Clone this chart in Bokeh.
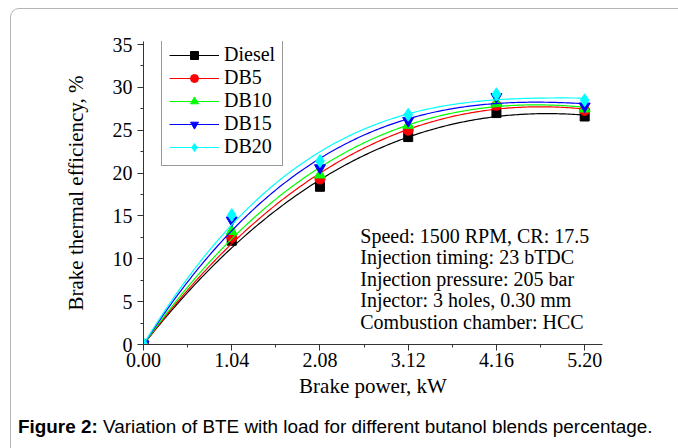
import numpy as np
from bokeh.plotting import figure
from bokeh.layouts import column
from bokeh.models import Range1d, FixedTicker, Legend, LegendItem, Label, Div
from bokeh.embed import file_html
from bokeh.resources import INLINE

# ---------------- data ----------------
load_kw = [0.00, 1.04, 2.08, 3.12, 4.16, 5.20]
x_tick_labels = ["0.00", "1.04", "2.08", "3.12", "4.16", "5.20"]
diesel = [0.0, 12.1, 18.4, 24.2, 27.0, 26.6]
db5 = [0.0, 12.5, 19.3, 25.0, 27.9, 27.3]
db10 = [0.0, 13.2, 19.8, 25.6, 28.2, 27.5]
db15 = [0.0, 14.5, 20.6, 26.1, 28.9, 27.8]
db20 = [0.0, 15.1, 21.4, 26.8, 29.2, 28.5]
series_names = ["Diesel", "DB5", "DB10", "DB15", "DB20"]
y_ticks = [0, 5, 10, 15, 20, 25, 30, 35]
annotation_lines = [
    "Speed: 1500 RPM, CR: 17.5",
    "Injection timing: 23 bTDC",
    "Injection pressure: 205 bar",
    "Injector: 3 holes, 0.30 mm",
    "Combustion chamber: HCC",
]
caption_bold = "Figure 2:"
caption_rest = "Variation of BTE with load for different butanol blends percentage."

series_values = [diesel, db5, db10, db15, db20]
colors = ["#000000", "#ff0000", "#00ff00", "#0000ff", "#00ffff"]
markers = ["square", "circle", "triangle", "inverted_triangle", "diamond"]
msizes = [9, 10, 11, 11, 13]

SERIF = "Liberation Serif"

p = figure(width=678, height=410, output_backend="svg", toolbar_location=None,
           x_range=Range1d(0, 5.41), y_range=Range1d(0, 35.35),
           min_border_left=143, min_border_right=76, min_border_top=41, min_border_bottom=66)
p.outline_line_color = None
p.xgrid.visible = False
p.ygrid.visible = False
p.background_fill_color = "white"
p.border_fill_color = None

# smooth polynomial trend (through the origin) fitted to each series, as in the original
x = np.array(load_kw)
xs = np.linspace(0, load_kw[-1], 200)
items = []
for name, vals, c, m, s in zip(series_names, series_values, colors, markers, msizes):
    y = np.array(vals)
    A = np.vstack([x, x ** 2, x ** 3]).T
    coef, *_ = np.linalg.lstsq(A, y, rcond=None)
    ys = coef[0] * xs + coef[1] * xs ** 2 + coef[2] * xs ** 3
    r1 = p.line(xs, ys, line_color=c, line_width=1.2)
    r2 = p.scatter(x, y, marker=m, size=s, fill_color=c, line_color=c)
    items.append(LegendItem(label=name, renderers=[r1, r2]))

legend = Legend(items=items, location=(18, 178))
legend.label_text_font = SERIF
legend.label_text_font_size = "20px"
legend.label_text_color = "black"
legend.glyph_width = 50
legend.glyph_height = 20
legend.label_height = 20
legend.spacing = -2
legend.padding = 7
legend.margin = 0
legend.label_standoff = 5
legend.border_line_color = "#333333"
legend.border_line_width = 1.2
legend.background_fill_alpha = 1
p.add_layout(legend, "center")

# axes
for ax in (p.xaxis[0], p.yaxis[0]):
    ax.axis_line_color = "#333333"
    ax.major_tick_line_color = "#333333"
    ax.minor_tick_line_color = "#333333"
    ax.major_tick_out = 6
    ax.major_tick_in = 0
    ax.minor_tick_out = 3
    ax.minor_tick_in = 0
    ax.major_label_text_font = SERIF
    ax.major_label_text_font_size = "20px"
    ax.major_label_text_color = "black"
    ax.axis_label_text_font = SERIF
    ax.axis_label_text_font_size = "21px"
    ax.axis_label_text_font_style = "normal"
    ax.axis_label_text_color = "black"

p.xaxis[0].ticker = FixedTicker(ticks=load_kw,
                                minor_ticks=[(a + b) / 2 for a, b in zip(load_kw[:-1], load_kw[1:])])
p.xaxis[0].major_label_overrides = {v: t for v, t in zip(load_kw, x_tick_labels)}
p.xaxis[0].axis_label = "Brake power, kW"
p.xaxis[0].major_label_standoff = 2
p.xaxis[0].axis_label_standoff = 4

p.yaxis[0].ticker = FixedTicker(ticks=y_ticks,
                                minor_ticks=[t + 2.5 for t in y_ticks[:-1]])
p.yaxis[0].axis_label = "Brake thermal efficiency, %"
p.yaxis[0].major_label_standoff = 5
p.yaxis[0].axis_label_standoff = 22

# annotation text block
for i, line in enumerate(annotation_lines):
    p.add_layout(Label(x=2.555, y=12.7 - i * 2.52, x_units="data", y_units="data",
                       text=line, text_font=SERIF, text_font_size="20px",
                       text_baseline="middle", text_color="black"))

caption = Div(
    text=f"<b>{caption_bold}</b> {caption_rest}",
    width=678, height=38, margin=(0, 0, 0, 0),
    styles={"font-family": "'Liberation Sans', Arial, sans-serif", "font-size": "18.9px",
            "color": "black", "padding-left": "18px", "padding-top": "7px",
            "line-height": "20px", "box-sizing": "border-box", "white-space": "nowrap"},
)

frame_css = (":host { position: relative; } "
             ":host::after { content: ''; position: absolute; left: 10px; top: 8px; "
             "width: 720px; height: 500px; border: 1.5px solid #b4b4b4; border-radius: 9px; "
             "pointer-events: none; }")
layout = column(p, caption, spacing=0, margin=(0, 0, 0, 0), stylesheets=[frame_css],
                styles={"background-color": "white"})

open("out.html", "w").write(file_html(layout, INLINE))
